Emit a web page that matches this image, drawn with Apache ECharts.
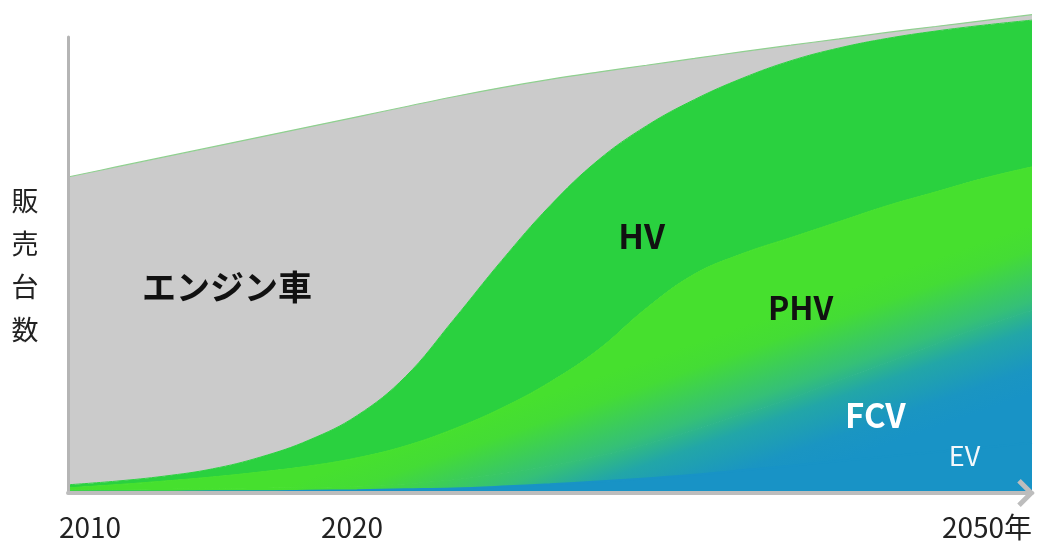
<!DOCTYPE html>
<html lang="ja">
<head>
  <meta charset="UTF-8">
  <title>販売台数</title>
  <style>
    html, body { margin: 0; background: #fff; }
    #chart { width: 1037px; height: 547px; }
  </style>
</head>
<body>
  <div id="chart"></div>
  <script src="https://cdn.jsdelivr.net/npm/echarts@6/dist/echarts.min.js"></script>
  <script>
    // Data (arbitrary units, stacked bottom -> top)
    const years  = ['2010', '2012', '2014', '2016', '2018', '2020', '2022', '2024', '2026', '2028', '2030',
                    '2032', '2034', '2036', '2038', '2040', '2042', '2044', '2046', '2048', '2050'];
    const ev     = [0.3, 0.3, 0.3, 0.4, 0.4, 0.5, 0.6, 0.8, 1.0, 1.4, 1.9,
                    2.5, 3.2, 4.0, 5.0, 6.0, 7.0, 8.0, 9.0, 10.0, 11.0];
    const fcv    = [0.4, 0.5, 0.6, 0.6, 0.7, 0.7, 0.9, 1.2, 1.9, 2.8, 4.0,
                    5.6, 7.5, 9.8, 12.3, 14.8, 17.8, 20.7, 23.7, 26.6, 29.1];
    const phv    = [0.4, 1.0, 1.7, 2.5, 3.5, 4.7, 6.2, 8.3, 11.1, 14.4, 18.4,
                    23.3, 29.8, 34.2, 35.2, 35.2, 34.7, 34.3, 33.3, 32.4, 31.4];
    const hv     = [0.7, 0.8, 1.1, 1.8, 3.3, 5.7, 9.3, 15.2, 24.0, 32.4, 38.7,
                    41.6, 40.0, 38.3, 38.5, 38.8, 38.1, 36.7, 35.3, 33.6, 32.2];
    const engine = [67.5, 68.9, 70.0, 70.6, 70.2, 68.7, 65.5, 59.2, 48.9, 37.9, 27.7,
                    19.3, 13.3, 9.0, 5.8, 3.4, 2.0, 1.3, 1.0, 1.0, 1.2];

    const tickLabels = { '2010': '2010', '2020': '2020', '2050': '2050年' };
    const yName = '販売台数';

    // area labels, placed at [year, value]
    const areaNames = ['エンジン車', 'HV', 'PHV', 'FCV', 'EV'];
    const areaAt    = [[2016.6, 45.2], [2033.8, 56.4], [2040.4, 40.6], [2043.5, 16.9], [2047.2, 8.1]];

    const FONT = '"Noto Sans CJK JP", "Noto Sans", sans-serif';
    const labelStyle = [
      { font: 'bold 34px ' + FONT, fill: '#111' },
      { font: 'bold 34px ' + FONT, fill: '#111' },
      { font: 'bold 32px ' + FONT, fill: '#111' },
      { font: 'bold 33px ' + FONT, fill: '#fff' },
      { font: '27px ' + FONT, fill: '#f4f8fb' }
    ];

    const chart = echarts.init(document.getElementById('chart'), null, { renderer: 'canvas' });

    // PHV fades into FCV blue towards the lower right
    const fade = () => new echarts.graphic.LinearGradient(765, 318, 818, 469, [
      { offset: 0, color: '#46e02e' },
      { offset: 0.15, color: '#44dc35' },
      { offset: 0.45, color: '#35c077' },
      { offset: 0.62, color: '#22a6a8' },
      { offset: 0.85, color: '#1a95c2' },
      { offset: 1, color: '#1893c6' }
    ], true);

    const area = (name, vals, color, line) => ({
      name,
      type: 'line',
      stack: 'total',
      data: vals,
      smooth: 0.4,
      symbol: 'none',
      showSymbol: false,
      clip: false,
      silent: true,
      lineStyle: line || { width: 1, color },
      areaStyle: { color, opacity: 1 }
    });

    const option = {
      backgroundColor: '#fff',
      animation: false,
      grid: { left: 68, right: 5, top: 37, bottom: 54 },
      xAxis: {
        type: 'category',
        data: years,
        boundaryGap: false,
        z: 5,
        splitLine: { show: false },
        axisTick: { show: false },
        axisLine: {
          lineStyle: { color: '#bdbdbd', width: 4 },
          symbol: ['none', 'path://M0,12 L12,0 L24,12 L21,15 L12,6 L3,15 Z'],
          symbolSize: [28, 18],
          symbolOffset: [0, -6]
        },
        axisLabel: {
          margin: 20,
          interval: (i, v) => v in tickLabels,
          formatter: v => tickLabels[v] ? '{t' + v + '|' + tickLabels[v] + '}' : '',
          rich: {
            t2010: { fontSize: 28, color: '#222', fontFamily: FONT, padding: [0, 0, 0, 44] },
            t2020: { fontSize: 28, color: '#222', fontFamily: FONT, padding: [0, 0, 0, 86] },
            t2050: { fontSize: 28, color: '#222', fontFamily: FONT, padding: [0, 90, 0, 0] }
          }
        }
      },
      yAxis: {
        type: 'value',
        min: 0,
        max: 100,
        z: 5,
        name: yName.split('').join('\n'),
        nameLocation: 'middle',
        nameRotate: 0,
        nameGap: 43,
        nameTextStyle: {
          fontSize: 27, lineHeight: 43, color: '#222', fontFamily: FONT,
          align: 'center', verticalAlign: 'middle', padding: [0, 0, 42, 0]
        },
        splitLine: { show: false },
        axisTick: { show: false },
        axisLabel: { show: false },
        axisLine: { show: true, lineStyle: { color: '#b5b5b5', width: 3 } }
      },
      series: [
        area('EV', ev, '#1893c6', { width: 2, color: '#1893c6' }),
        area('FCV', fcv, fade()),
        area('PHV', phv, fade()),
        area('HV', hv, '#2ad13f'),
        area('エンジン車', engine, '#cbcbcb', { width: 1.2, color: '#8fd08f' })
      ]
    };

    chart.setOption(option);

    // year -> pixel on the category axis (interpolating between neighbouring categories)
    const toPx = (year, v) => {
      const f = (year - 2010) / 2;
      const i0 = Math.floor(f);
      const i1 = Math.min(i0 + 1, years.length - 1);
      const p0 = chart.convertToPixel({ gridIndex: 0 }, [i0, v]);
      const p1 = chart.convertToPixel({ gridIndex: 0 }, [i1, v]);
      return [p0[0] + (p1[0] - p0[0]) * (f - i0), p0[1]];
    };

    // put the area names where they sit in the picture
    chart.setOption({
      graphic: areaNames.map((t, i) => {
        const p = toPx(areaAt[i][0], areaAt[i][1]);
        return {
          type: 'text',
          x: p[0],
          y: p[1],
          z: 100,
          silent: true,
          style: Object.assign({ text: t, align: 'center', verticalAlign: 'middle' }, labelStyle[i])
        };
      })
    });
  </script>
</body>
</html>
